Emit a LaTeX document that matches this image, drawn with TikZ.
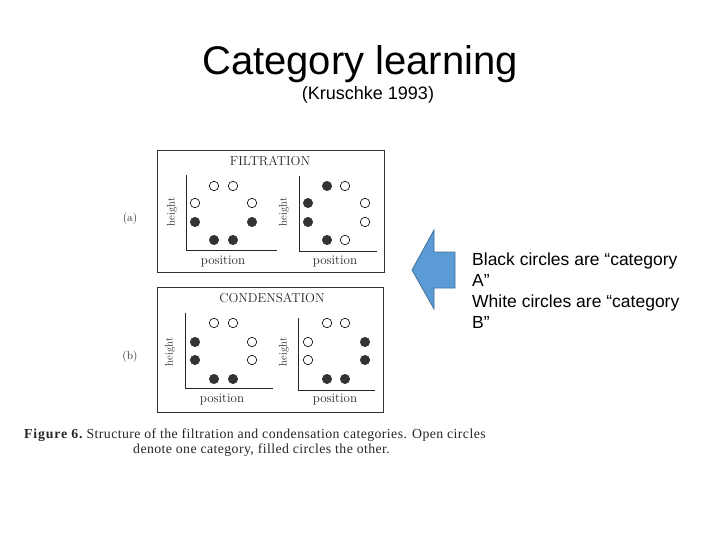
\documentclass[tikz,border=0pt]{standalone}
\usepackage{fontspec}
\newfontfamily\arial{Liberation Sans}
\newfontfamily\capfont[LetterSpace=3]{Liberation Serif}
\newfontfamily\figfont[LetterSpace=6]{Liberation Serif}
\begin{document}
\begin{tikzpicture}[x=1pt,y=-1pt,
  frame/.style={draw=black!80,line width=0.9pt},
  axis/.style={draw=black!85,line width=0.8pt},
  opn/.style={circle,draw=black,line width=0.6pt,fill=white,minimum size=9.5pt,inner sep=0pt},
  fil/.style={circle,draw=black!85,fill=black!80,minimum size=9.5pt,inner sep=0pt},
  ylab/.style={rotate=90,font=\fontsize{11}{11}\selectfont,text=black!85},
  xlab/.style={font=\fontsize{13}{13}\selectfont,text=black!85},
  ttl/.style={font=\fontsize{13}{13}\selectfont,text=black!85},
  plab/.style={font=\fontsize{11.5}{11.5}\selectfont,text=black!85},
  captxt/.style={font=\capfont\fontsize{13.8}{13.8}\selectfont,anchor=base west,text=black!85,inner sep=0pt}]
\useasboundingbox (0,0) rectangle (720,540);
% title
\node[font=\arial\fontsize{40}{40}\selectfont,anchor=base] (title) at (360,75) {Category learning};
\node[font=\arial\fontsize{18}{18}\selectfont,anchor=base] (ref) at (368,100) {(Kruschke 1993)};
% frames
\draw[frame] (157,150) rectangle (384,272);
\draw[frame] (157,287) rectangle (383,412);
\node[ttl] (filt) at (270,161) {FILTRATION};
\node[ttl] (cond) at (272,298) {CONDENSATION};
\node[plab] (pa) at (130,219) {(a)};
\node[plab] (pb) at (130,357) {(b)};
% axes (a)
\draw[axis] (186,175) -- (186,250) -- (277,250);
\draw[axis] (299,176) -- (299,251) -- (377,251);
% axes (b)
\draw[axis] (185,313) -- (185,388) -- (273,388);
\draw[axis] (298,318) -- (298,390) -- (375,390);
% labels
\node[ylab] (ha1) at (172,212) {height};
\node[ylab] (ha2) at (284,212) {height};
\node[ylab] (hb1) at (170,352) {height};
\node[ylab] (hb2) at (284,352) {height};
\node[xlab] (xa1) at (223,262) {position};
\node[xlab] (xa2) at (335,262) {position};
\node[xlab] (xb1) at (222,400) {position};
\node[xlab] (xb2) at (335,400) {position};
% circles (a) left
\node[opn] (a1) at (214,186) {}; \node[opn] (a2) at (233,186) {};
\node[opn] (a3) at (195,203) {}; \node[opn] (a4) at (252,203) {};
\node[fil] (a5) at (195,222) {}; \node[fil] (a6) at (252,222) {};
\node[fil] (a7) at (214,240) {}; \node[fil] (a8) at (233,240) {};
% circles (a) right
\node[fil] (b1) at (327,186) {}; \node[opn] (b2) at (345,186) {};
\node[fil] (b3) at (308,203) {}; \node[opn] (b4) at (365,203) {};
\node[fil] (b5) at (308,222) {}; \node[opn] (b6) at (365,222) {};
\node[fil] (b7) at (327,240) {}; \node[opn] (b8) at (345,240) {};
% circles (b) left
\node[opn] (c1) at (214,323) {}; \node[opn] (c2) at (233,323) {};
\node[fil] (c3) at (195,342) {}; \node[opn] (c4) at (252,342) {};
\node[fil] (c5) at (195,360) {}; \node[opn] (c6) at (252,360) {};
\node[fil] (c7) at (214,379) {}; \node[fil] (c8) at (233,379) {};
% circles (b) right
\node[opn] (d1) at (327,323) {}; \node[opn] (d2) at (345,323) {};
\node[opn] (d3) at (308,342) {}; \node[fil] (d4) at (365,342) {};
\node[opn] (d5) at (308,360) {}; \node[fil] (d6) at (365,360) {};
\node[fil] (d7) at (327,379) {}; \node[fil] (d8) at (345,379) {};
% caption
\node[captxt] (cap1) at (24,438) {{\figfont\bfseries Figure 6.}\hspace{4pt}Structure of the filtration and condensation categories. Open circles};
\node[captxt] (cap2) at (133,453) {denote one category, filled circles the other.};
% arrow
\definecolor{arrowblue}{HTML}{5B9BD5}
\definecolor{arrowedge}{HTML}{41719C}
\draw[fill=arrowblue,draw=arrowedge,line width=0.8pt,line join=miter]
  (412,270) -- (434,230) -- (434,252) -- (455,252) -- (455,288) -- (434,288) -- (434,309) -- cycle;
% text
\node[font=\arial\fontsize{17.5}{21}\selectfont,anchor=base west,align=left,inner sep=0pt] (txt) at (472,328)
  {Black circles are “category\\A”\\White circles are “category\\B”};
\end{tikzpicture}
\end{document}
